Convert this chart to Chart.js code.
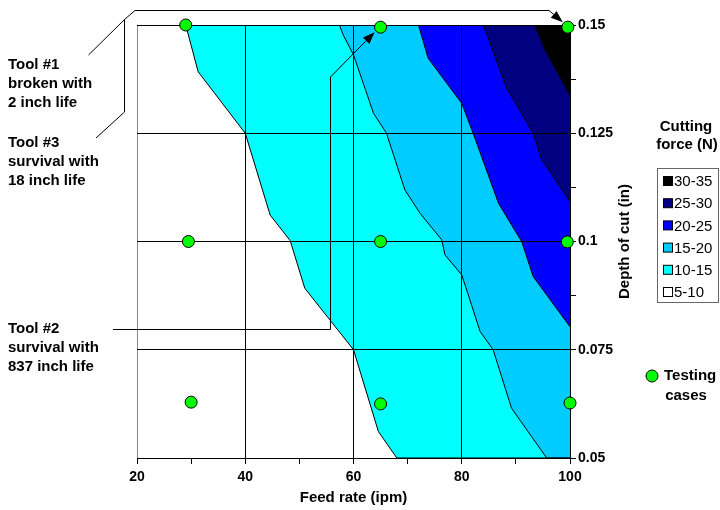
<!DOCTYPE html>
<html>
<head>
<meta charset="utf-8">
<title>Cutting force contour</title>
<script src="https://cdn.jsdelivr.net/npm/chart.js@4.4.0/dist/chart.umd.min.js"></script>
<style>
  body { margin: 0; background: #fff; }
  #wrap { width: 720px; height: 510px; position: relative; }
</style>
</head>
<body>
<div id="wrap"><canvas id="chart"></canvas></div>
<script>
// axis ticks
const feedTicks = [20, 40, 60, 80, 100];
const depthTicks = [0.05, 0.075, 0.1, 0.125, 0.15];

// contour edges (feed rate ipm / depth of cut in), top of plot downwards
const edge10Feed = [29, 31.3, 40, 44.6, 48.3, 51, 60, 64.6, 68, 100];
const edge10Depth = [0.15, 0.1392, 0.125, 0.1061, 0.1002, 0.0892, 0.075, 0.0561, 0.05, 0.05];
const edge15Feed = [57.4, 58.1, 60, 63.7, 66.1, 69.5, 72.3, 76.3, 76.9, 80, 83.4, 85.8, 89.2, 95.7, 100];
const edge15Depth = [0.15, 0.1477, 0.1431, 0.1296, 0.125, 0.1119, 0.1065, 0.1004, 0.0969, 0.0923, 0.0792, 0.075, 0.0615, 0.05, 0.05];
const edge20Feed = [72, 73.8, 80, 82.1, 86.8, 91.1, 93.2, 100];
const edge20Depth = [0.15, 0.1423, 0.1319, 0.125, 0.1088, 0.0999, 0.0919, 0.0803];
const edge25Feed = [84, 88.3, 93.2, 94.8, 100];
const edge25Depth = [0.15, 0.1354, 0.125, 0.1188, 0.1092];
const edge30Feed = [93.5, 95.4, 100];
const edge30Depth = [0.15, 0.1442, 0.1338];

// cutting force bands (N), highest first
const forceBands = ['30-35', '25-30', '20-25', '15-20', '10-15', '5-10'];

// testing cases
const caseFeed = [29, 65, 99.6, 29.5, 65, 99.5, 30, 65, 100];
const caseDepth = [0.15, 0.1495, 0.1495, 0.1, 0.1, 0.0999, 0.0629, 0.0625, 0.0627];

const bandColors = ['#000000', '#000080', '#0000FF', '#00CCFF', '#00FFFF', '#FFFFFF'];
const FONT = '"Liberation Sans", Arial, sans-serif';

const toPoints = (xs, ys) => xs.map((x, i) => ({x: x, y: ys[i]}));

const edges = [
  [edge30Feed, edge30Depth],
  [edge25Feed, edge25Depth],
  [edge20Feed, edge20Depth],
  [edge15Feed, edge15Depth],
  [edge10Feed, edge10Depth]
];

// points first so they sit on top, then the bands from black down to cyan
const datasets = [{
  label: 'Testing cases',
  data: toPoints(caseFeed, caseDepth),
  showLine: false,
  pointRadius: 6,
  pointBackgroundColor: '#00FF00',
  pointBorderColor: '#000',
  pointBorderWidth: 1,
  clip: false
}];
edges.forEach((e, i) => {
  datasets.push({
    label: forceBands[i],
    data: toPoints(e[0], e[1]),
    borderColor: '#000',
    borderWidth: 1,
    backgroundColor: bandColors[i],
    fill: 'end',
    pointRadius: 0,
    tension: 0
  });
});

const isMajor = (v, list) => list.some(t => Math.abs(t - v) < 1e-6);

function arrow(ctx, x1, y1, x2, y2) {
  const a = Math.atan2(y2 - y1, x2 - x1);
  const len = 12, half = 4.5;
  ctx.beginPath();
  ctx.moveTo(x1, y1);
  ctx.lineTo(x2 - Math.cos(a) * len, y2 - Math.sin(a) * len);
  ctx.stroke();
  ctx.beginPath();
  ctx.moveTo(x2, y2);
  ctx.lineTo(x2 - Math.cos(a) * len - Math.sin(a) * half, y2 - Math.sin(a) * len + Math.cos(a) * half);
  ctx.lineTo(x2 - Math.cos(a) * len + Math.sin(a) * half, y2 - Math.sin(a) * len - Math.cos(a) * half);
  ctx.closePath();
  ctx.fill();
}

// labels, arrows and the legend drawn around the plot
const notes = {
  id: 'notes',
  afterDraw(chart) {
    const ctx = chart.ctx;
    const sx = chart.scales.x, sy = chart.scales.y;
    const area = chart.chartArea;
    ctx.save();
    ctx.fillStyle = '#000';
    ctx.strokeStyle = '#000';
    ctx.lineWidth = 1;
    ctx.font = 'bold 15px ' + FONT;
    ctx.textBaseline = 'middle';
    ctx.textAlign = 'left';

    const block = (lines, x, y) => lines.forEach((t, i) => ctx.fillText(t, x, y + i * 19));
    block(['Tool #1', 'broken with', '2 inch life'], 8, 65);
    block(['Tool #3', 'survival with', '18 inch life'], 8, 143);
    block(['Tool #2', 'survival with', '837 inch life'], 8, 329);

    // bracket for tool #1 and #3 -> (100, 0.15)
    const p3x = sx.getPixelForValue(caseFeed[2]);
    const p3y = sy.getPixelForValue(caseDepth[2]);
    ctx.beginPath();
    ctx.moveTo(88.5, 55);
    ctx.lineTo(124.5, 19.5);
    ctx.lineTo(124.5, 112);
    ctx.lineTo(96, 138);
    ctx.moveTo(124.5, 19.5);
    ctx.lineTo(135, 10.5);
    ctx.lineTo(549, 10.5);
    ctx.stroke();
    arrow(ctx, 549, 10.5, p3x - 5, p3y - 5);

    // tool #2 -> (65, 0.15)
    const p2x = sx.getPixelForValue(caseFeed[1]);
    const p2y = sy.getPixelForValue(caseDepth[1]);
    ctx.beginPath();
    ctx.moveTo(113, 329.5);
    ctx.lineTo(330.5, 329.5);
    ctx.lineTo(330.5, 77);
    ctx.stroke();
    arrow(ctx, 330.5, 77, p2x - 6, p2y + 5);

    // y axis title
    ctx.save();
    ctx.translate(625, (area.top + area.bottom) / 2);
    ctx.rotate(-Math.PI / 2);
    ctx.textAlign = 'center';
    ctx.fillText('Depth of cut (in)', 0, 0);
    ctx.restore();

    // legend
    ctx.textAlign = 'center';
    ctx.fillText('Cutting', 686, 127);
    ctx.fillText('force (N)', 687, 145);
    ctx.strokeStyle = '#666';
    ctx.strokeRect(657.5, 168.5, 61, 134);
    ctx.textAlign = 'left';
    ctx.font = '15px ' + FONT;
    forceBands.forEach((b, i) => {
      const y = 181 + i * 22.2;
      ctx.fillStyle = bandColors[i];
      ctx.fillRect(663.5, y - 4.5, 9, 9);
      ctx.strokeStyle = '#000';
      ctx.strokeRect(663.5, y - 4.5, 9, 9);
      ctx.fillStyle = '#000';
      ctx.fillText(b, 674, y + 1);
    });

    ctx.beginPath();
    ctx.arc(652, 376, 6, 0, Math.PI * 2);
    ctx.fillStyle = '#00FF00';
    ctx.fill();
    ctx.strokeStyle = '#000';
    ctx.stroke();
    ctx.fillStyle = '#000';
    ctx.font = 'bold 15px ' + FONT;
    ctx.fillText('Testing', 664, 376);
    ctx.textAlign = 'center';
    ctx.fillText('cases', 686, 396);
    ctx.restore();
  }
};

new Chart(document.getElementById('chart'), {
  type: 'line',
  data: {datasets: datasets},
  options: {
    responsive: true,
    maintainAspectRatio: false,
    animation: false,
    layout: {padding: {left: 137, top: 25, right: 0, bottom: 0}},
    plugins: {
      legend: {display: false},
      tooltip: {enabled: false},
      filler: {drawTime: 'beforeDraw'}
    },
    scales: {
      x: {
        type: 'linear',
        min: 20,
        max: 100,
        afterFit: s => { s.height = 52; },
        ticks: {
          stepSize: 10,
          autoSkip: false,
          padding: 5,
          color: '#000',
          font: {family: FONT, size: 14, weight: 'bold'},
          callback: v => isMajor(v, feedTicks) ? String(v) : ''
        },
        grid: {
          color: c => c.tick && Math.abs(c.tick.value - 20) < 1e-6 ? '#888' :
            (c.tick && isMajor(c.tick.value, feedTicks) ? '#000' : 'rgba(0,0,0,0)'),
          tickColor: '#000',
          tickLength: 6,
          lineWidth: 1
        },
        border: {color: '#000', width: 1},
        title: {
          display: true,
          text: 'Feed rate (ipm)',
          color: '#000',
          font: {family: FONT, size: 15, weight: 'bold'},
          padding: {top: 0, bottom: 3}
        }
      },
      y: {
        type: 'linear',
        position: 'right',
        min: 0.05,
        max: 0.15,
        afterFit: s => { s.width = 150; },
        ticks: {
          stepSize: 0.0125,
          autoSkip: false,
          padding: 2,
          color: '#000',
          font: {family: FONT, size: 14, weight: 'bold'},
          callback: v => isMajor(v, depthTicks) ? String(Number(v.toFixed(4))) : ''
        },
        grid: {
          color: c => c.tick && isMajor(c.tick.value, depthTicks) ? '#000' : 'rgba(0,0,0,0)',
          tickColor: '#000',
          tickLength: 6,
          lineWidth: 1
        },
        border: {color: '#000', width: 1}
      }
    }
  },
  plugins: [notes]
});
</script>
</body>
</html>
